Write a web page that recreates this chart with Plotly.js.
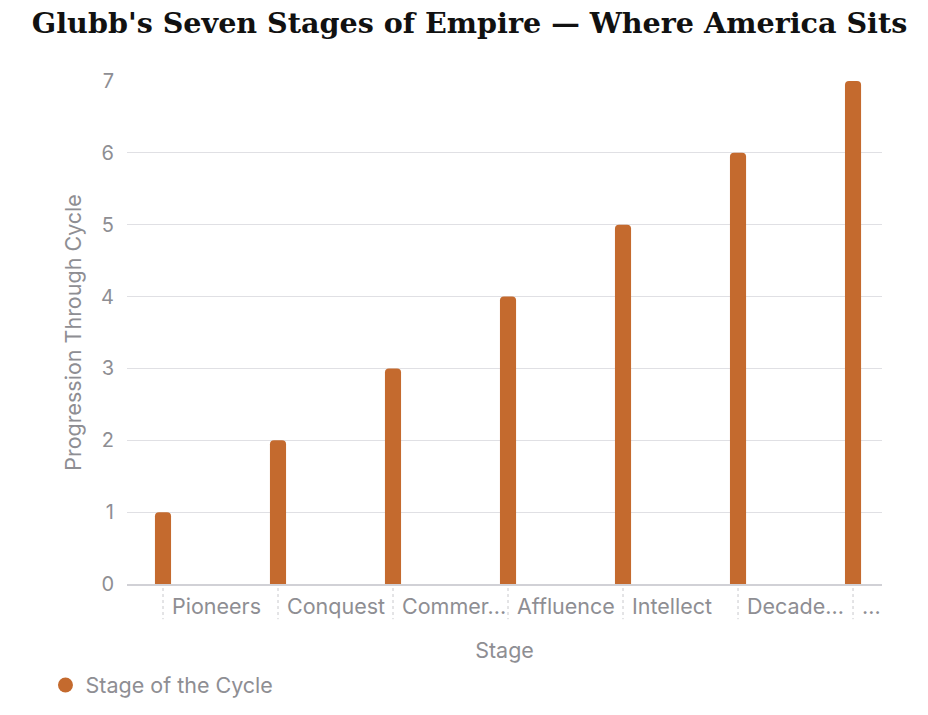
<!DOCTYPE html>
<html>
<head>
<meta charset="utf-8">
<script src="https://cdn.plot.ly/plotly-3.0.1.min.js"></script>
<style>
  html, body { margin: 0; padding: 0; background: #fff; }
  #chart { width: 928px; height: 715px; }
</style>
</head>
<body>
<div id="chart"></div>
<script>
// stages along the x axis (labels as shown, truncated in the source)
const stages = ["Pioneers", "Conquest", "Commer...", "Affluence", "Intellect", "Decade...", "..."];
const stagePos = [0, 1, 2, 3, 4, 5, 6];
const progression = [1, 2, 3, 4, 5, 6, 7];
const yTicks = [0, 1, 2, 3, 4, 5, 6, 7];

const barColor = "#c46a2e";
const greyText = "#8e8e93";
const labelFont = "Inter, Liberation Sans, Arial, sans-serif";
const fs = 21.5;

const bars = {
  x: stagePos,
  y: progression,
  type: "bar",
  width: 0.14,
  marker: { color: barColor },
  showlegend: false,
  hoverinfo: "skip",
};

// dummy trace just so the legend gets a round marker
const legendDot = {
  x: [null],
  y: [null],
  type: "scatter",
  mode: "markers",
  name: "Stage of the Cycle",
  marker: { color: barColor, size: 15, symbol: "circle" },
};

// category labels sit to the right of the dotted separators
const stageLabels = stages.map((s, i) => ({
  x: stagePos[i],
  y: -0.014,
  xref: "x",
  yref: "paper",
  text: s,
  showarrow: false,
  xanchor: "left",
  yanchor: "top",
  xshift: 7,
  font: { family: labelFont, size: fs, color: greyText },
}));

const separators = stagePos.map((p) => ({
  type: "line",
  xref: "x",
  yref: "paper",
  x0: p,
  x1: p,
  y0: -0.008,
  y1: -0.07,
  line: { color: "#c8c8cc", width: 1, dash: "dot" },
}));

const layout = {
  width: 928,
  height: 715,
  margin: { l: 127, r: 46, t: 81, b: 131 },
  paper_bgcolor: "#fff",
  plot_bgcolor: "#fff",
  barcornerradius: 4,
  title: {
    text: "<b>Glubb's Seven Stages of Empire — Where America Sits</b>",
    font: { family: "DejaVu Serif, Liberation Serif, serif", size: 28.6, color: "#111" },
    x: 0.506,
    xanchor: "center",
    y: 0.968,
    yref: "container",
    yanchor: "middle",
  },
  xaxis: {
    range: [-0.313, 6.252],
    showgrid: false,
    zeroline: false,
    showticklabels: false,
    ticks: "",
    showline: true,
    linecolor: "#d1d1d6",
    linewidth: 1.5,
    fixedrange: true,
    title: {
      text: "Stage",
      font: { family: labelFont, size: fs, color: greyText },
      standoff: 58,
    },
  },
  yaxis: {
    range: [0, 7],
    tickvals: yTicks,
    showgrid: true,
    gridcolor: "#e0e0e4",
    gridwidth: 1,
    zeroline: false,
    ticks: "",
    ticklabelstandoff: 12,
    tickfont: { family: labelFont, size: 20, color: greyText },
    fixedrange: true,
    title: {
      text: "Progression Through Cycle",
      font: { family: labelFont, size: fs, color: greyText },
      standoff: 13,
    },
  },
  showlegend: true,
  legend: {
    orientation: "h",
    xref: "container",
    yref: "container",
    x: 0.049,
    y: 0.042,
    xanchor: "left",
    yanchor: "middle",
    font: { family: labelFont, size: fs, color: greyText },
    itemwidth: 30,
  },
  annotations: stageLabels,
  shapes: separators,
};

Plotly.newPlot("chart", [bars, legendDot], layout, { displayModeBar: false, staticPlot: true });
</script>
</body>
</html>
